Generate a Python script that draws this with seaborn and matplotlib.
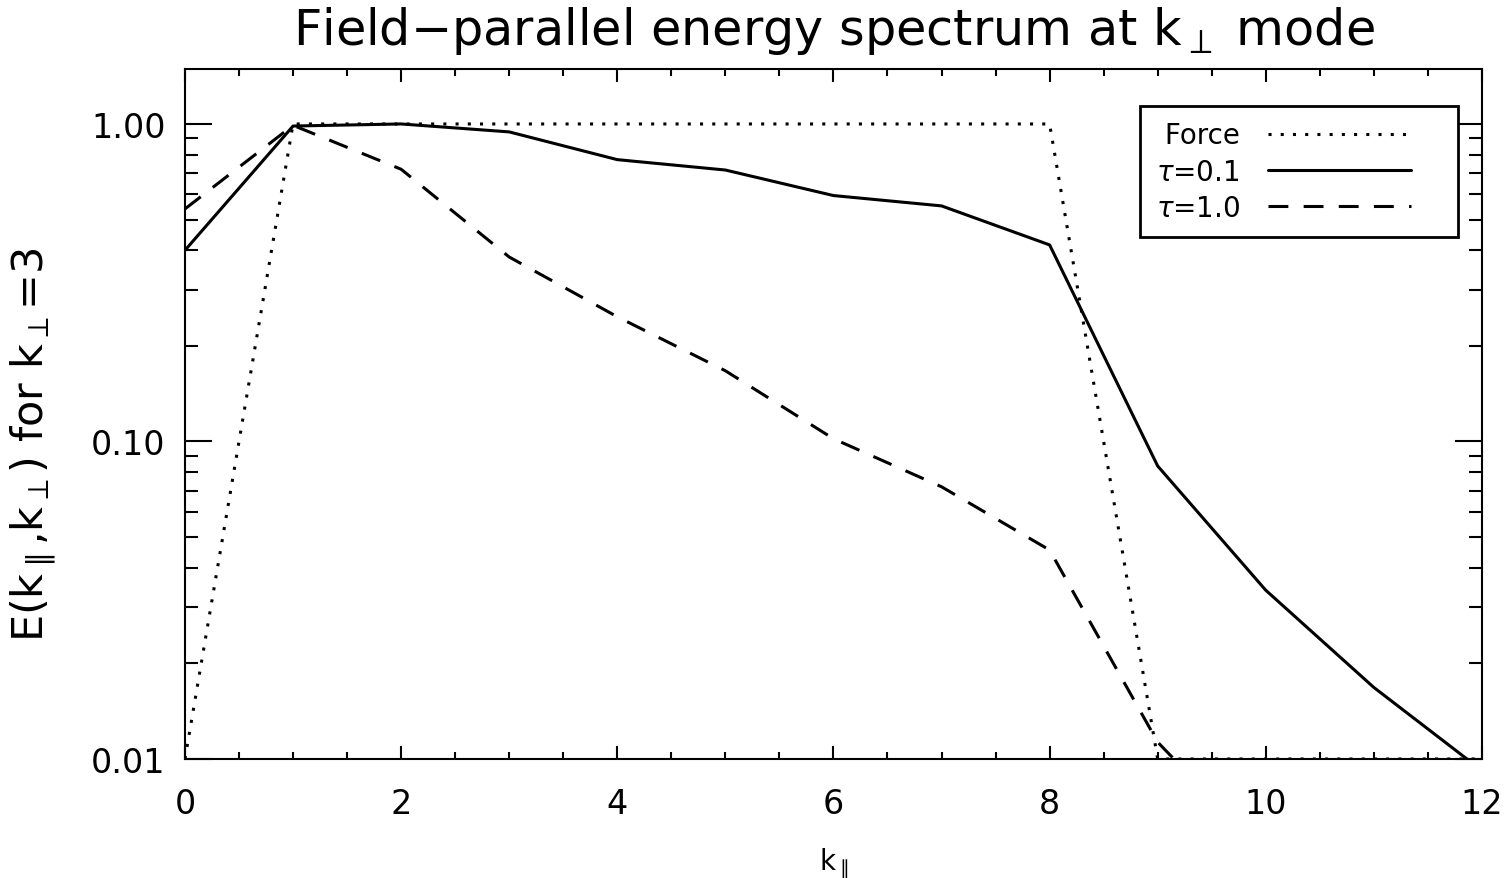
import numpy as np
import matplotlib
matplotlib.use("Agg")
import matplotlib.pyplot as plt
import seaborn as sns
from matplotlib.ticker import FixedLocator, MultipleLocator, LogLocator, NullFormatter, FuncFormatter
from matplotlib.legend_handler import HandlerLine2D

# ---- data ----
k_par = [0, 1, 2, 3, 4, 5, 6, 7, 8, 9, 10, 11, 12]
force = [0.01, 1.0, 1.0, 1.0, 1.0, 1.0, 1.0, 1.0, 1.0, 0.01, 0.01, 0.01, 0.01]
tau01 = [0.40, 0.985, 1.0, 0.944, 0.772, 0.716, 0.595, 0.552, 0.416, 0.0837, 0.034, 0.0168, 0.0092]
tau10 = [0.54, 0.99, 0.72, 0.381, 0.247, 0.167, 0.102, 0.072, 0.0455, 0.0113, 0.005, 0.003, 0.002]
series_labels = [" Force", r"$\tau$=0.1", r"$\tau$=1.0"]
ytick_vals = [0.01, 0.1, 1.0]
xtick_vals = [0, 2, 4, 6, 8, 10, 12]

sns.set_style("white")
plt.rcParams["font.family"] = ["DejaVu Sans"]
plt.rcParams["mathtext.fontset"] = "dejavusans"
plt.rcParams["axes.linewidth"] = 1.5
for key in ["text.color", "axes.labelcolor", "xtick.color", "ytick.color", "axes.edgecolor"]:
    plt.rcParams[key] = "black"

fig = plt.figure(figsize=(15.1, 8.79), dpi=100)
ax = fig.add_axes([0.1225, 0.1354, 0.8589, 0.785])

lw = 2.2
sns.lineplot(x=k_par, y=force, ax=ax, color="black", lw=lw,
             linestyle=(0, (1, 3.0)), label=series_labels[0], dash_capstyle="butt")
sns.lineplot(x=k_par, y=tau01, ax=ax, color="black", lw=lw,
             linestyle="-", label=series_labels[1])
sns.lineplot(x=k_par, y=tau10, ax=ax, color="black", lw=lw,
             linestyle=(0, (6.5, 5.0)), label=series_labels[2])

ax.set_yscale("log")
ax.set_xlim(0, 12)
ax.set_ylim(0.01, 1.49)

ax.xaxis.set_major_locator(FixedLocator(xtick_vals))
ax.xaxis.set_minor_locator(MultipleLocator(0.5))
ax.yaxis.set_major_locator(FixedLocator(ytick_vals))
ax.yaxis.set_minor_locator(LogLocator(base=10, subs=np.arange(2, 10)))
ax.yaxis.set_minor_formatter(NullFormatter())
ax.yaxis.set_major_formatter(FuncFormatter(lambda v, p: f"{v:.2f}"))
ax.xaxis.set_major_formatter(FuncFormatter(lambda v, p: f"{int(round(v))}"))

ax.tick_params(axis="x", which="major", direction="in", length=9.5, width=1.5,
               top=True, bottom=True, labelsize=24, pad=20, color="black", labelcolor="black")
ax.tick_params(axis="x", which="minor", direction="in", length=5, width=1.5,
               top=True, bottom=True, color="black")
ax.tick_params(axis="y", which="major", direction="in", length=19.5, width=1.5,
               left=True, right=True, labelsize=24, pad=14, color="black", labelcolor="black")
ax.tick_params(axis="y", which="minor", direction="in", length=9.5, width=1.5,
               left=True, right=True, color="black")
for s in ax.spines.values():
    s.set_color("black")
    s.set_linewidth(1.5)

ax.set_title(r"Field$-$parallel energy spectrum at k$_{\perp}$ mode", fontsize=35.5, pad=18,
             color="black")
ax.set_xlabel(r"k$_{\parallel}$", fontsize=20, color="black")
ax.xaxis.set_label_coords(0.5, -0.125)
ax.set_ylabel(r"E(k$_{\parallel}$,k$_{\perp}$) for k$_{\perp}$=3", fontsize=31, color="black")
ax.yaxis.set_label_coords(-0.098, 0.457)


class ShortLine(HandlerLine2D):
    def get_xdata(self, legend, xdescent, ydescent, width, height, fontsize):
        xd = np.array([-xdescent, -xdescent + 0.82 * width])
        return xd, xd


leg = ax.legend(loc="upper right", bbox_to_anchor=(0.9815, 0.9464), markerfirst=False,
                fontsize=20, handlelength=6.3, handletextpad=1.0, labelspacing=0.3,
                borderpad=0.55, borderaxespad=0.0, frameon=True, fancybox=False, shadow=False,
                edgecolor="black", framealpha=1.0,
                handler_map={matplotlib.lines.Line2D: ShortLine()})
leg.get_frame().set_linewidth(2.0)
for t in leg.get_texts():
    t.set_color("black")

fig.savefig("out.png", dpi=100, facecolor="white")
